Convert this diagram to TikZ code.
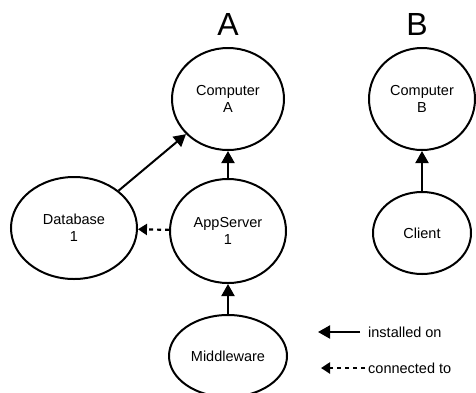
\documentclass[tikz,border=0pt]{standalone}
\usepackage{fontspec}
\setmainfont{Liberation Sans}
\usetikzlibrary{shapes.geometric,arrows.meta}
\tikzset{
  ent/.style={ellipse, draw, line width=2pt, inner sep=0pt, align=center,
    font=\fontsize{14.5}{17}\selectfont},
  inst/.style={line width=2pt, -{Triangle[length=12pt,width=13pt]}},
  conn/.style={line width=2.2pt, dash pattern=on 4pt off 4pt, -{Triangle[length=9pt,width=11pt]}},
  title/.style={font=\fontsize{32}{36}\selectfont},
  legend/.style={anchor=west, inner sep=0pt, font=\fontsize{14.5}{17}\selectfont}
}
\begin{document}
\begin{tikzpicture}[x=1pt,y=-1pt]
\useasboundingbox (0,0) rectangle (476,392);
\node[title] (ta) at (228,24) {A};
\node[title] (tb) at (417,24) {B};
\node[ent, minimum width=112pt, minimum height=102pt] (ca) at (228,99) {Computer\\A};
\node[ent, minimum width=106pt, minimum height=102pt] (cb) at (422,99) {Computer\\B};
\node[ent, minimum width=126pt, minimum height=102pt] (db) at (74,228) {Database\\1};
\node[ent, minimum width=116pt, minimum height=104pt] (as) at (228,231) {AppServer\\1};
\node[ent, minimum width=98pt, minimum height=82pt] (cl) at (422,233) {Client};
\node[ent, minimum width=118pt, minimum height=82pt] (mw) at (228,356) {Middleware};
\draw[inst] (db) -- (ca);
\draw[inst] (as) -- (ca);
\draw[inst] (mw) -- (as);
\draw[inst] (cl) -- (cb);
\draw[conn] (as) -- (db);
\coordinate (l1s) at (360,332);
\coordinate (l1e) at (318,332);
\coordinate (l2s) at (365,368);
\coordinate (l2e) at (321,368);
\draw[inst] (l1s) -- (l1e);
\draw[conn] (l2s) -- (l2e);
\node[legend] (t1) at (368,332) {installed on};
\node[legend] (t2) at (368,368) {connected to};
\end{tikzpicture}
\end{document}
